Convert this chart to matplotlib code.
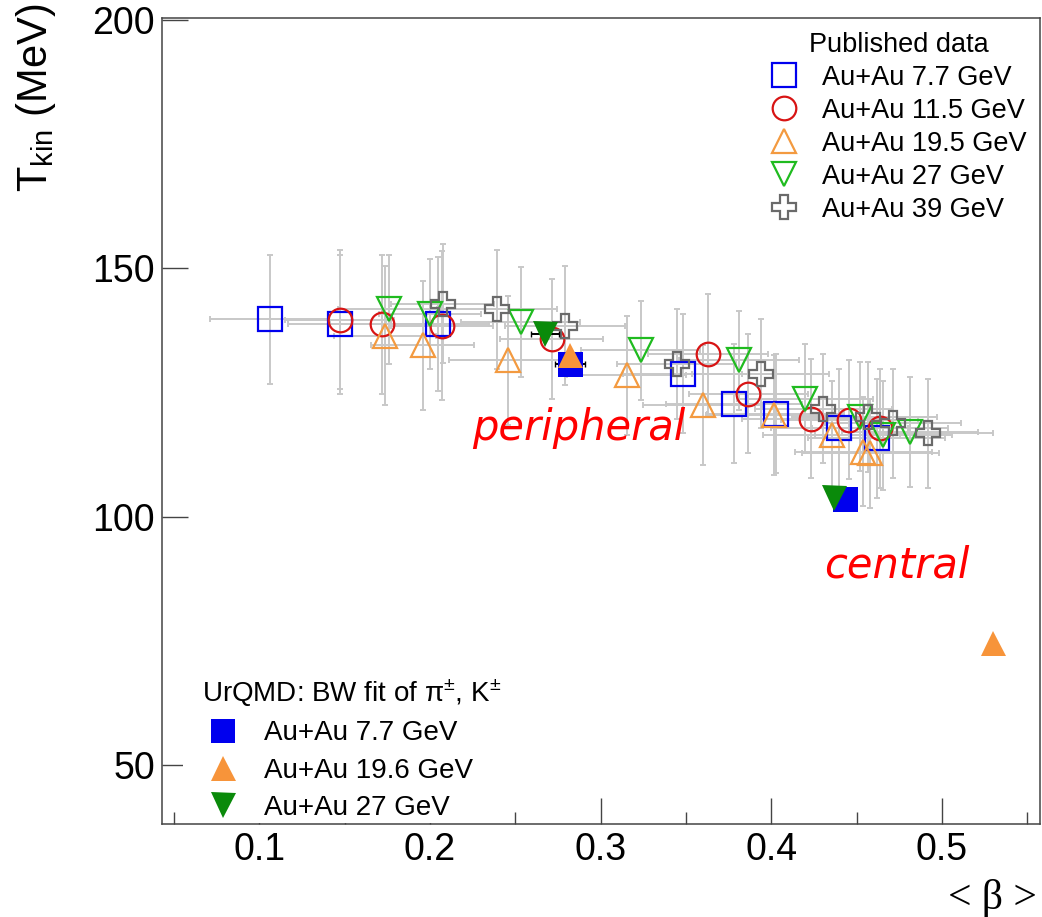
import matplotlib
matplotlib.use('Agg')
import matplotlib.pyplot as plt
from matplotlib.lines import Line2D
from matplotlib.patches import Rectangle
from matplotlib.ticker import MultipleLocator, FixedLocator

plt.rcParams['font.family'] = ['Liberation Sans', 'DejaVu Sans']
plt.rcParams['mathtext.fontset'] = 'custom'
plt.rcParams['mathtext.rm'] = 'Liberation Sans'
plt.rcParams['mathtext.it'] = 'Liberation Sans:italic'
plt.rcParams['mathtext.bf'] = 'Liberation Sans:bold'

# ---------------- data ----------------
# Published data, Au+Au 7.7 GeV
beta_77 = [0.106, 0.147, 0.2045, 0.348, 0.378, 0.4025, 0.4398, 0.4617]
T_77 = [139.8, 138.8, 138.8, 128.8, 122.8, 120.8, 117.8, 115.8]
beta_err_77 = [0.035, 0.03, 0.03, 0.035, 0.04, 0.04, 0.04, 0.04]
T_err_77 = [13, 14, 13.5, 12, 12, 12, 12, 12]

# Au+Au 11.5 GeV
beta_115 = [0.147, 0.1717, 0.2069, 0.2713, 0.363, 0.3865, 0.423, 0.4457, 0.4636]
T_115 = [139.7, 138.8, 138.5, 135.8, 132.8, 124.8, 119.8, 119.6, 117.8]
beta_err_115 = [0.032, 0.03, 0.03, 0.03, 0.035, 0.035, 0.04, 0.04, 0.04]
T_err_115 = [14, 14, 15, 12, 12, 12, 12, 12, 12]

# Au+Au 19.5 GeV
beta_195 = [0.1738, 0.1957, 0.2459, 0.3152, 0.3597, 0.4017, 0.4353, 0.4539, 0.458]
T_195 = [136.5, 134.5, 131.5, 128.5, 122.5, 120.5, 116.4, 113.1, 112.8]
beta_err_195 = [0.03, 0.03, 0.035, 0.035, 0.035, 0.04, 0.04, 0.04, 0.04]
T_err_195 = [14, 13, 13, 12, 12, 12, 11, 11, 11]

# Au+Au 27 GeV
beta_27 = [0.176, 0.200, 0.2531, 0.3234, 0.381, 0.4197, 0.452, 0.4656, 0.4813]
T_27 = [141.8, 140.8, 139.2, 133.5, 131.5, 123.8, 120.2, 116.4, 117.1]
beta_err_27 = [0.03, 0.03, 0.035, 0.035, 0.035, 0.04, 0.04, 0.04, 0.04]
T_err_27 = [11, 11, 11, 10, 10, 11, 11, 11, 11]

# Au+Au 39 GeV
beta_39 = [0.2074, 0.2394, 0.2791, 0.3445, 0.3937, 0.4304, 0.4568, 0.4714, 0.492]
T_39 = [142.9, 141.8, 138.5, 130.8, 128.8, 121.8, 120.1, 118.8, 116.8]
beta_err_39 = [0.03, 0.035, 0.035, 0.035, 0.04, 0.04, 0.04, 0.04, 0.038]
T_err_39 = [12, 12, 12, 11, 11, 11, 11, 11, 11]

# UrQMD BW fits
urqmd_beta_77 = [0.282, 0.4431]
urqmd_T_77 = [130.8, 103.6]
urqmd_beta_err_77 = [0.009, 0.0]
urqmd_beta_196 = [0.282, 0.530]
urqmd_T_196 = [132.5, 74.7]
urqmd_beta_27 = [0.2674, 0.4366]
urqmd_T_27 = [136.8, 103.8]
urqmd_beta_err_27 = [0.008, 0.0]

pub_labels = ['Au+Au 7.7 GeV', 'Au+Au 11.5 GeV', 'Au+Au 19.5 GeV',
              'Au+Au 27 GeV', 'Au+Au 39 GeV']
urqmd_labels = ['Au+Au 7.7 GeV', 'Au+Au 19.6 GeV', 'Au+Au 27 GeV']

x_ticks = [0.1, 0.2, 0.3, 0.4, 0.5]
y_ticks = [50, 100, 150, 200]

# ---------------- style ----------------
W, H = 1042, 917
fig = plt.figure(figsize=(W / 100, H / 100), dpi=100)
ax_l, ax_r, ax_t, ax_b = 162, 1040, 17.5, 824
ax = fig.add_axes([ax_l / W, 1 - ax_b / H, (ax_r - ax_l) / W, (ax_b - ax_t) / H])
ax.set_xlim(0.0430, 0.5574)
ax.set_ylim(38.2, 200.5)

c_blue = '#0000ee'
c_red = '#d81414'
c_orange = '#f39a40'
c_orange_f = '#f7943a'
c_green = '#1fbb1f'
c_green_f = '#0a8a0a'
c_gray = '#6a6a6a'
c_err = '#c8c8c8'
ms = 17
mew = 1.6

pub = [
    (beta_77, T_77, beta_err_77, T_err_77, 's', c_blue),
    (beta_115, T_115, beta_err_115, T_err_115, 'o', c_red),
    (beta_195, T_195, beta_err_195, T_err_195, '^', c_orange),
    (beta_27, T_27, beta_err_27, T_err_27, 'v', c_green),
    (beta_39, T_39, beta_err_39, T_err_39, 'P', c_gray),
]
for bx, ty, bxe, tye, mk, col in pub:
    ax.errorbar(bx, ty, xerr=bxe, yerr=tye, fmt='none', ecolor=c_err,
                elinewidth=1.4, capsize=2, capthick=1.4, zorder=2)
for bx, ty, bxe, tye, mk, col in pub:
    ax.plot(bx, ty, linestyle='none', marker=mk, markersize=ms,
            markerfacecolor='none', markeredgecolor=col, markeredgewidth=mew,
            zorder=3)

ax.errorbar(urqmd_beta_77, urqmd_T_77, xerr=urqmd_beta_err_77, fmt='none',
            ecolor='black', elinewidth=1.4, capsize=2, zorder=4)
ax.errorbar(urqmd_beta_27, urqmd_T_27, xerr=urqmd_beta_err_27, fmt='none',
            ecolor='black', elinewidth=1.4, capsize=2, zorder=4)
ax.plot(urqmd_beta_77, urqmd_T_77, linestyle='none', marker='s', markersize=ms + 1,
        color=c_blue, markeredgewidth=0, zorder=4)
ax.plot(urqmd_beta_196, urqmd_T_196, linestyle='none', marker='^', markersize=ms + 1,
        color=c_orange_f, markeredgewidth=0, zorder=4)
ax.plot(urqmd_beta_27, urqmd_T_27, linestyle='none', marker='v', markersize=ms + 1,
        color=c_green_f, markeredgewidth=0, zorder=4)

# ---------------- axes ----------------
ax.xaxis.set_major_locator(FixedLocator(x_ticks))
ax.xaxis.set_minor_locator(MultipleLocator(0.05))
ax.yaxis.set_major_locator(FixedLocator(y_ticks))
ax.set_xticklabels([f'{v:.1f}' for v in x_ticks])
ax.set_yticklabels([str(v) for v in y_ticks])
ax.tick_params(which='both', direction='in', top=False, right=False,
               colors='#444444', labelcolor='black', width=1.0)
ax.tick_params(which='major', length=18.5, labelsize=27)
ax.tick_params(which='minor', length=9)
ax.tick_params(axis='x', which='major', pad=6)
ax.tick_params(axis='y', which='major', pad=5)
for sp in ax.spines.values():
    sp.set_linewidth(1.1)
    sp.set_color('#444444')
    sp.set_zorder(10)

fig.text(36 / W, 1 - 4 / H, r'T$_{\mathregular{kin}}$ (MeV)', rotation=90,
         ha='center', va='top', fontsize=30)
fig.text(1037 / W, 1 - 899 / H, '< β >', ha='right', va='center',
         fontsize=30, family='Liberation Serif')

fig.text(579 / W, 1 - 428 / H, 'peripheral', color='#ff0000', fontsize=30,
         style='italic', family='DejaVu Sans', ha='center', va='center')
fig.text(897 / W, 1 - 565 / H, 'central', color='#ff0000', fontsize=30,
         style='italic', family='DejaVu Sans', ha='center', va='center')

# ---------------- legends ----------------
pub_handles = [Line2D([], [], linestyle='none', marker=mk, markersize=ms,
                      markerfacecolor='none', markeredgecolor=col,
                      markeredgewidth=mew)
               for (_, _, _, _, mk, col) in pub]
leg1 = ax.legend(pub_handles, pub_labels, title='Published data',
                 loc='upper left', bbox_to_anchor=(757 / W, 1 - 18 / H),
                 bbox_transform=fig.transFigure, frameon=False,
                 fontsize=19.5, title_fontsize=19.5, borderpad=0,
                 handlelength=1.0, handletextpad=0.9, labelspacing=0.26)
ax.add_artist(leg1)

# white box of the lower legend (covers the ticks as in the original)
ax.add_patch(Rectangle((183, 917 - 823), 330, 175, transform=None,
                       facecolor='white', edgecolor='none', zorder=4.5))
urqmd_handles = [
    Line2D([], [], linestyle='none', marker='s', markersize=ms, color=c_blue,
           markeredgewidth=0),
    Line2D([], [], linestyle='none', marker='^', markersize=ms + 1,
           color=c_orange_f, markeredgewidth=0),
    Line2D([], [], linestyle='none', marker='v', markersize=ms + 1,
           color=c_green_f, markeredgewidth=0),
]
leg2 = ax.legend(urqmd_handles, urqmd_labels,
                 title=r'UrQMD: BW fit of π$^{\pm}$, K$^{\pm}$',
                 loc='upper left', bbox_to_anchor=(188 / W, 1 - 664 / H),
                 bbox_transform=fig.transFigure, frameon=False,
                 fontsize=20, title_fontsize=20, borderpad=0,
                 handlelength=1.5, handletextpad=0.75, labelspacing=0.4,
                 alignment='left')
leg2.set_zorder(6)

fig.savefig('out.png', dpi=100)
